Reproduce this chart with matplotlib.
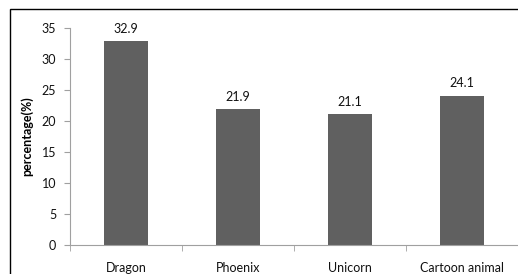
import matplotlib.pyplot as plt
from matplotlib.patches import Rectangle

# data
categories = ["Dragon", "Phoenix", "Unicorn", "Cartoon animal"]
values = [32.9, 21.9, 21.1, 24.1]
y_ticks = [0, 5, 10, 15, 20, 25, 30, 35]

plt.rcParams['font.family'] = ['Lato', 'DejaVu Sans']

fig = plt.figure(figsize=(5.18, 2.74), dpi=100)
ax = fig.add_axes([70 / 518, 1 - 245 / 274, 1 - 70 / 518, (245 - 28) / 274])

# outer frame of the chart area
fig.patches.append(Rectangle((10 / 518, -0.2), 1.2, 1.2 - 9 / 274,
                             transform=fig.transFigure, fill=False,
                             edgecolor='black', linewidth=1.0))

x = list(range(len(categories)))
ax.bar(x, values, width=0.4, color='#606060')
for xi, v in zip(x, values):
    ax.text(xi, v + 1.0, f"{v:.1f}", ha='center', va='bottom', fontsize=9, color='#111111')

ax.set_xlim(-0.5, len(categories) - 0.5)
ax.set_ylim(0, 35)
ax.set_yticks(y_ticks)
ax.set_xticks(x)
ax.set_xticklabels(categories)
ax.set_xticks([i - 0.5 for i in range(len(categories) + 1)], minor=True)
ax.tick_params(axis='x', which='major', length=0, pad=12, labelsize=9, labelcolor='#111111')
ax.tick_params(axis='x', which='minor', length=4, color='#a0a0a0', direction='out')
ax.tick_params(axis='y', length=4, color='#a0a0a0', labelsize=9, pad=6, labelcolor='#111111')

ax.set_ylabel("percentage(%)", fontsize=9, fontweight='bold', labelpad=6)

for side in ['top', 'right']:
    ax.spines[side].set_visible(False)
for side in ['left', 'bottom']:
    ax.spines[side].set_color('#a0a0a0')
    ax.spines[side].set_linewidth(0.8)

fig.savefig("out.png", dpi=100)
